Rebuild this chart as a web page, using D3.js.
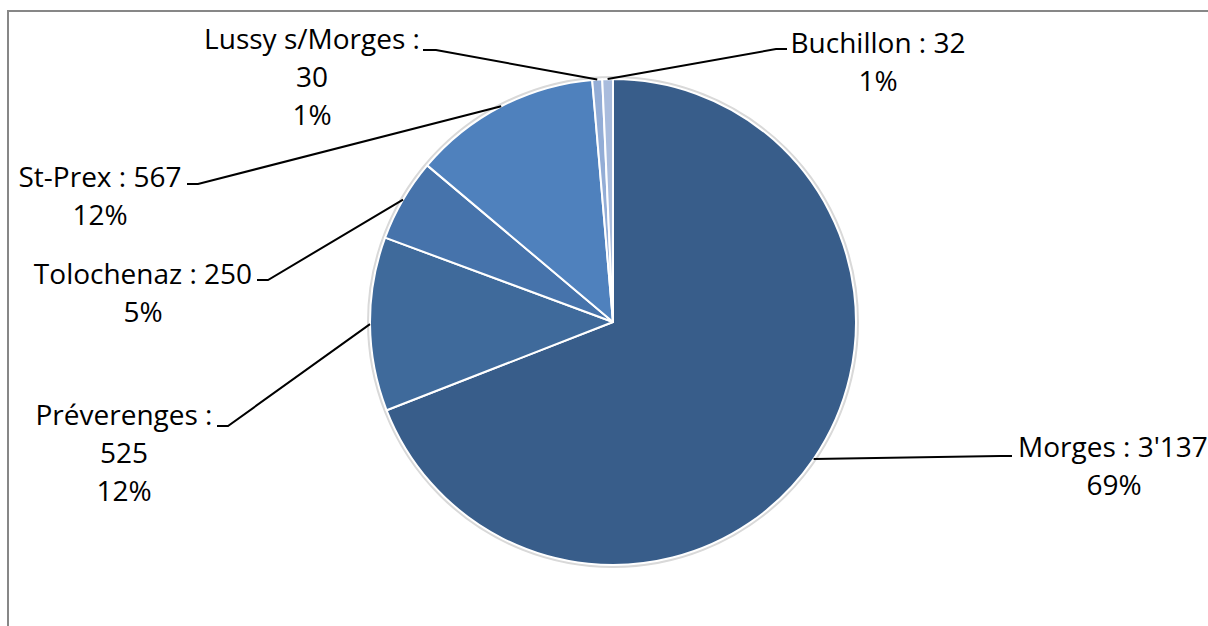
<!DOCTYPE html>
<html>
<head>
<meta charset="utf-8">
<script src="https://cdn.jsdelivr.net/npm/d3@7"></script>
<style>
  html, body { margin: 0; padding: 0; background: #fff; overflow: hidden; }
  svg text { font-family: "Open Sans", "Noto Sans", sans-serif; font-size: 28px; fill: #000; }
</style>
</head>
<body>
<svg id="chart" width="1208" height="626"></svg>
<script>
// Population by commune
const communes = ["Morges", "Préverenges", "Tolochenaz", "St-Prex", "Lussy s/Morges", "Buchillon"];
const population = [3137, 525, 250, 567, 30, 32];
const valueLabels = ["3'137", "525", "250", "567", "30", "32"];
const percentLabels = ["69%", "12%", "5%", "12%", "1%", "1%"];
const sliceColors = ["#385d8a", "#3f6a9b", "#4673ab", "#4f81bd", "#93add6", "#a9bcdd"];

// Label placement: text lines (with centre x and baseline y) and the elbow of each leader line
const labelLayout = [
  { lines: [{ kind: "nameValue", x: 1018, y: 457, anchor: "start" }, { kind: "pct", x: 1114, y: 495 }],
    elbow: [[1012, 456], [1000, 456]] },
  { lines: [{ kind: "name", x: 124, y: 425 }, { kind: "value", x: 124, y: 463 }, { kind: "pct", x: 124, y: 501 }],
    elbow: [[217, 426], [228, 426]] },
  { lines: [{ kind: "nameValue", x: 143, y: 284 }, { kind: "pct", x: 143, y: 322 }],
    elbow: [[257, 280], [268, 280]] },
  { lines: [{ kind: "nameValue", x: 100, y: 187 }, { kind: "pct", x: 100, y: 225 }],
    elbow: [[187, 184], [198, 184]] },
  { lines: [{ kind: "name", x: 312, y: 49 }, { kind: "value", x: 312, y: 87 }, { kind: "pct", x: 312, y: 125 }],
    elbow: [[423, 50], [436, 50]] },
  { lines: [{ kind: "nameValue", x: 878, y: 53 }, { kind: "pct", x: 878, y: 91 }],
    elbow: [[787, 49], [776, 49]] }
];

const svg = d3.select("#chart");

// Chart frame
svg.append("rect")
  .attr("x", 8).attr("y", 11)
  .attr("width", 1400).attr("height", 1000)
  .attr("fill", "none")
  .attr("stroke", "#878787")
  .attr("stroke-width", 2);

const cx = 613, cy = 322, radius = 243;

const pie = d3.pie().sort(null).value(d => d.value).startAngle(0).endAngle(2 * Math.PI);
const data = communes.map((name, i) => ({ name, value: population[i], i }));
const arcs = pie(data);

const arc = d3.arc().innerRadius(0).outerRadius(radius);

const g = svg.append("g").attr("transform", `translate(${cx},${cy})`);

// Soft rim around the pie
g.append("circle")
  .attr("r", radius + 1.5)
  .attr("fill", "none")
  .attr("stroke", "#d9d9d9")
  .attr("stroke-width", 3);

g.selectAll("path.slice")
  .data(arcs)
  .join("path")
  .attr("class", "slice")
  .attr("d", arc)
  .attr("fill", d => sliceColors[d.data.i])
  .attr("stroke", "#fff")
  .attr("stroke-width", 2)
  .attr("stroke-linejoin", "round");

// Leader lines from the label elbow to the slice's mid-angle on the rim
const leader = d3.line();
svg.selectAll("path.leader")
  .data(arcs)
  .join("path")
  .attr("class", "leader")
  .attr("d", d => {
    const a = (d.startAngle + d.endAngle) / 2;
    const edge = [cx + radius * Math.sin(a), cy - radius * Math.cos(a)];
    const [p0, p1] = labelLayout[d.data.i].elbow;
    return leader([p0, p1, edge]);
  })
  .attr("fill", "none")
  .attr("stroke", "#000")
  .attr("stroke-width", 2);

// Labels
function lineText(kind, i) {
  if (kind === "nameValue") return communes[i] + " : " + valueLabels[i];
  if (kind === "name") return communes[i] + " :";
  if (kind === "value") return valueLabels[i];
  return percentLabels[i];
}

arcs.forEach(d => {
  const i = d.data.i;
  labelLayout[i].lines.forEach(l => {
    svg.append("text")
      .attr("x", l.x)
      .attr("y", l.y)
      .attr("text-anchor", l.anchor || "middle")
      .text(lineText(l.kind, i));
  });
});
</script>
</body>
</html>
